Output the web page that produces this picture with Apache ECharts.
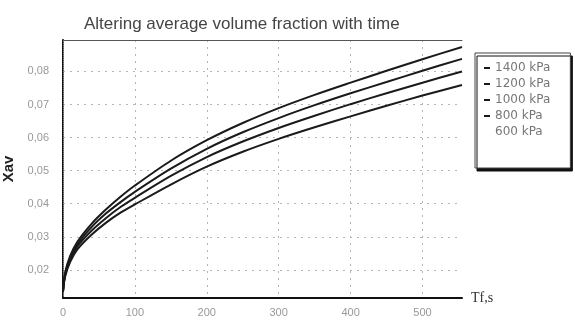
<!DOCTYPE html>
<html>
<head>
<meta charset="utf-8">
<script src="https://cdn.jsdelivr.net/npm/echarts@6/dist/echarts.min.js"></script>
<style>
  html, body { margin: 0; padding: 0; background: #fff; }
  #chart { width: 575px; height: 320px; }
</style>
</head>
<body>
<div id="chart"></div>
<script>
// time, s
const times = [0, 3, 10, 20, 40, 60, 80, 100, 150, 200, 250, 300, 350, 400, 450, 500, 555];
// average volume fraction per pressure
const p1400 = [0.0135, 0.0192, 0.0242, 0.0285, 0.0340, 0.0383, 0.0421, 0.0455, 0.0530, 0.0592, 0.0644, 0.0689, 0.0729, 0.0766, 0.0802, 0.0837, 0.0874];
const p1200 = [0.0135, 0.0188, 0.0236, 0.0278, 0.0330, 0.0371, 0.0405, 0.0436, 0.0506, 0.0566, 0.0616, 0.0659, 0.0698, 0.0734, 0.0768, 0.0802, 0.0838];
const p1000 = [0.0135, 0.0185, 0.0231, 0.0271, 0.0319, 0.0357, 0.0390, 0.0418, 0.0484, 0.0541, 0.0588, 0.0629, 0.0666, 0.0701, 0.0734, 0.0766, 0.0800];
const p800 = [0.0135, 0.0180, 0.0224, 0.0262, 0.0307, 0.0343, 0.0373, 0.0398, 0.0458, 0.0512, 0.0557, 0.0596, 0.0631, 0.0664, 0.0696, 0.0727, 0.0759];
const p600 = [];
const seriesNames = ['1400 kPa', '1200 kPa', '1000 kPa', '800 kPa', '600 kPa'];
const xTicks = [0, 100, 200, 300, 400, 500];
const yTicks = [0.02, 0.03, 0.04, 0.05, 0.06, 0.07, 0.08];

const chart = echarts.init(document.getElementById('chart'));
const font = '"Liberation Sans", Arial, sans-serif';

const pairs = (ys) => ys.map((y, i) => [times[i], y]);
const lineSeries = (name, ys, color) => ({
  name: name,
  type: 'line',
  data: pairs(ys),
  smooth: 0.3,
  showSymbol: false,
  lineStyle: { color: color, width: 2 },
  itemStyle: { color: color },
  xAxisIndex: 0,
  yAxisIndex: 0
});

const gridLine = { show: true, lineStyle: { color: '#b5b5b5', type: [2, 5], width: 1 } };

const option = {
  backgroundColor: '#fff',
  animation: false,
  title: {
    text: 'Altering average volume fraction with time',
    left: 79,
    top: 11,
    textStyle: { fontFamily: font, fontSize: 17, fontWeight: 'normal', color: '#444' }
  },
  grid: { left: 63, right: 113, top: 40, bottom: 22, containLabel: false, outerBoundsMode: 'none' },
  legend: {
    orient: 'vertical',
    left: 475,
    top: 53,
    padding: [9, 20, 30, 9],
    itemGap: 4,
    itemWidth: 6,
    itemHeight: 2,
    icon: 'rect',
    backgroundColor: '#fff',
    borderColor: '#444',
    borderWidth: 1,
    shadowColor: '#111',
    shadowOffsetX: 2,
    shadowOffsetY: 3,
    shadowBlur: 0,
    data: seriesNames,
    textStyle: { fontFamily: '"DejaVu Sans", sans-serif', fontSize: 12, color: '#777' }
  },
  xAxis: [
    {
      type: 'value',
      min: 0,
      max: 555,
      name: 'Tf,s',
      nameLocation: 'end',
      nameGap: 9,
      nameTextStyle: { fontFamily: '"Liberation Serif", serif', fontSize: 14, color: '#333' },
      axisLine: { lineStyle: { color: '#111', width: 2 } },
      axisTick: { show: false, customValues: xTicks },
      axisLabel: { customValues: xTicks, fontFamily: font, fontSize: 11, color: '#999', margin: 9 },
      splitLine: gridLine
    },
    {
      type: 'value',
      position: 'top',
      min: 0,
      max: 555,
      axisLine: { show: true, lineStyle: { color: '#555', width: 1 } },
      axisTick: { show: false },
      axisLabel: { show: false },
      splitLine: { show: false }
    }
  ],
  yAxis: [
    {
      type: 'value',
      min: 0.0115,
      max: 0.0895,
      name: 'Xav',
      nameLocation: 'middle',
      nameGap: 40,
      nameTextStyle: { fontFamily: font, fontSize: 15, fontWeight: 'bold', color: '#222' },
      axisLine: { show: true, lineStyle: { color: '#111', width: 2 } },
      axisTick: { show: false, customValues: yTicks },
      axisLabel: {
        customValues: yTicks,
        fontFamily: font,
        fontSize: 11,
        color: '#999',
        margin: 14,
        formatter: (v) => v.toFixed(2).replace('.', ',')
      },
      splitLine: gridLine
    },
    {
      type: 'value',
      position: 'right',
      min: 0.0115,
      max: 0.0895,
      axisLine: { show: true, lineStyle: { color: '#888', width: 1, type: 'dotted' } },
      axisTick: { show: false },
      axisLabel: { show: false },
      splitLine: { show: false }
    }
  ],
  series: [
    lineSeries(seriesNames[0], p1400, '#1a1a1a'),
    lineSeries(seriesNames[1], p1200, '#1a1a1a'),
    lineSeries(seriesNames[2], p1000, '#1a1a1a'),
    lineSeries(seriesNames[3], p800, '#1a1a1a'),
    lineSeries(seriesNames[4], p600, '#ffffff')
  ]
};

chart.setOption(option);
</script>
</body>
</html>
